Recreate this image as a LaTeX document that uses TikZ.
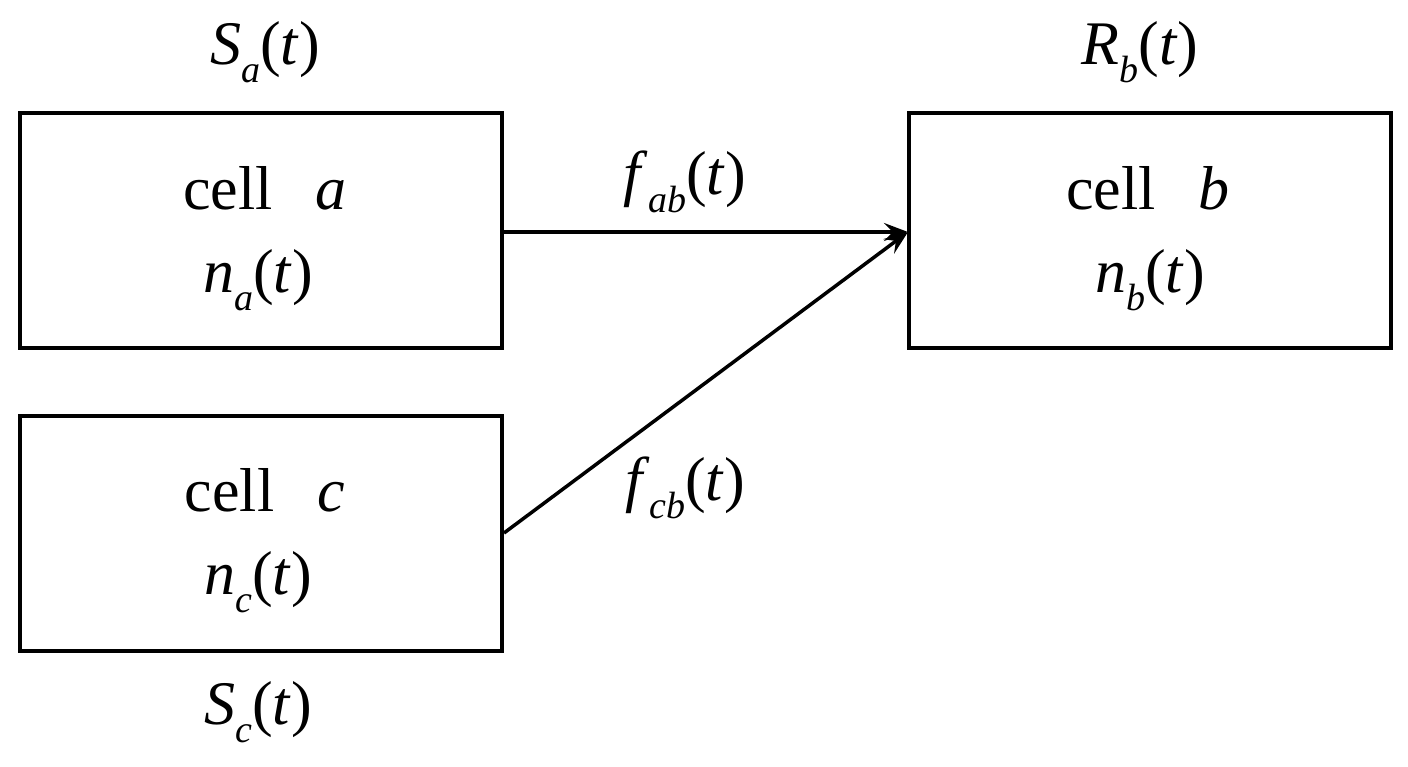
\documentclass[tikz,border=0pt]{standalone}
\usepackage{fontspec}
\setmainfont{Liberation Serif}
\usetikzlibrary{arrows.meta}
\newcommand{\vv}[2]{\textit{#1}\raisebox{-0.3em}{\fontsize{38}{40}\selectfont\textit{#2}}(\textit{t})}
\begin{document}
\begin{tikzpicture}[x=1pt,y=-1pt,
  box/.style={draw,line width=4pt,minimum width=482pt,minimum height=235pt,inner sep=0pt},
  lab/.style={font=\fontsize{62}{68}\selectfont},
  con/.style={line width=3.5pt,-{Stealth[length=24pt,width=18pt,inset=9pt]}}]
\useasboundingbox (0,0) rectangle (1408,767);
\node[box] (a) at (261,230.5) {};
\node[box] (b) at (1149.5,230.5) {};
\node[box] (c) at (261,533) {};
\node[lab] (ta) at (265,188) {cell\hspace{0.7em}\textit{a}};
\node[lab] (na) at (258,280) {\vv{n}{a}};
\node[lab] (tb) at (1148,188) {cell\hspace{0.7em}\textit{b}};
\node[lab] (nb) at (1150,280) {\vv{n}{b}};
\node[lab] (tc) at (265,490) {cell\hspace{0.7em}\textit{c}};
\node[lab] (nc) at (258,582) {\vv{n}{c}};
\node[lab] (sa) at (265,52) {\vv{S}{a}};
\node[lab] (rb) at (1140,52) {\vv{R}{b}};
\node[lab] (sc) at (258,712) {\vv{S}{c}};
\node[lab] (fab) at (685,182) {\vv{f}{ab}};
\node[lab] (fcb) at (685,488) {\vv{f}{cb}};
\coordinate (bw) at (908,232);
\draw[con] (502,232) -- (bw);
\draw[con] (c.east) -- (bw);
\end{tikzpicture}
\end{document}
